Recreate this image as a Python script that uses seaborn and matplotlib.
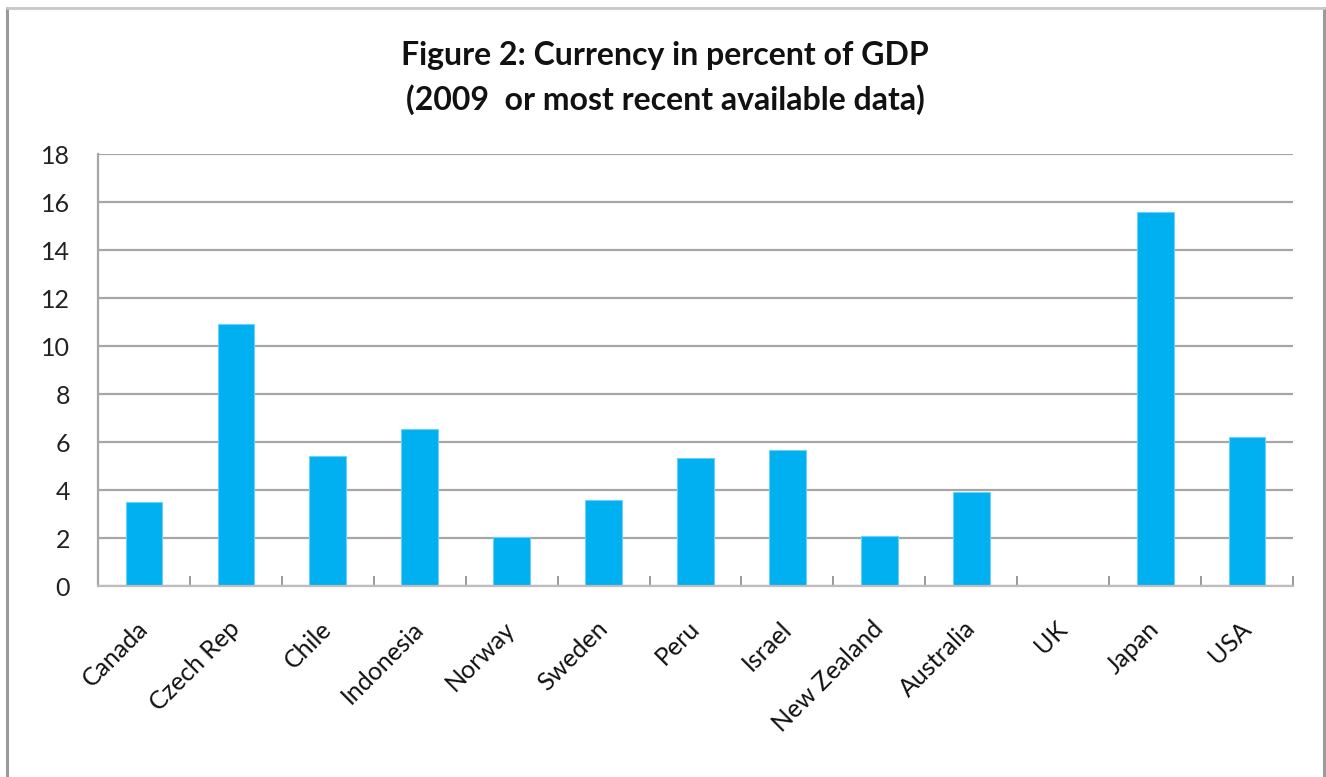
import numpy as np
import pandas as pd
import matplotlib
matplotlib.use("Agg")
import matplotlib.pyplot as plt
from matplotlib.lines import Line2D
from matplotlib.ticker import FixedLocator
import seaborn as sns

# Currency in circulation as a share of GDP
countries = ["Canada", "Czech Rep", "Chile", "Indonesia", "Norway", "Sweden",
             "Peru", "Israel", "New Zealand", "Australia", "UK", "Japan", "USA"]
currency_pct_gdp = [3.5, 10.9, 5.42, 6.53, 2.03, 3.58,
                    5.35, 5.68, 2.08, 3.92, 0.0, 15.6, 6.2]
y_ticks = [0, 2, 4, 6, 8, 10, 12, 14, 16, 18]

title_lines = ["Figure 2: Currency in percent of GDP",
               "(2009  or most recent available data)"]

sns.set_theme(style="white")
plt.rcParams["font.family"] = ["Lato", "DejaVu Sans"]

df = pd.DataFrame({"country": countries, "value": currency_pct_gdp})

fig = plt.figure(figsize=(13.26, 7.77), dpi=100)
ax = fig.add_axes([98 / 1326, 1 - 586 / 777, (1293 - 98) / 1326, (586 - 154) / 777])

sns.barplot(data=df, x="country", y="value", order=countries, color="#00B0F0",
            saturation=1, width=0.4, edgecolor="#6fd0f5", linewidth=0.8, ax=ax)

ax.set_xlim(-0.5, len(countries) - 0.5)
ax.set_ylim(0, 18)
ax.set_yticks(y_ticks)
ax.set_yticklabels([str(v) for v in y_ticks], fontsize=18, color="#222222")
ax.yaxis.grid(True, color="#a6a6a6", linewidth=1.6)
ax.set_axisbelow(True)
ax.set_xlabel("")
ax.set_ylabel("")

# Category labels, slanted
ax.set_xticks(range(len(countries)))
ax.set_xticklabels(countries, rotation=45, ha="right", va="center",
                   rotation_mode="anchor", fontsize=18, color="#111111")
ax.tick_params(axis="x", which="major", length=0, pad=28)
ax.tick_params(axis="y", which="major", length=0, pad=20)

# Inward tick marks at category boundaries
ax.xaxis.set_minor_locator(FixedLocator(np.arange(-0.5, len(countries), 1.0)))
ax.tick_params(axis="x", which="minor", direction="in", length=7.5,
               width=1.4, color="#9a9a9a", bottom=True)

for side in ["top", "right"]:
    ax.spines[side].set_visible(False)
ax.spines["left"].set_color("#a6a6a6")
ax.spines["left"].set_linewidth(1.6)
ax.spines["bottom"].set_color("#bdbdbd")
ax.spines["bottom"].set_linewidth(1.6)

# Chart titles
fig.text(665 / 1326, 1 - 56 / 777, title_lines[0], ha="center", va="center",
         fontsize=23, fontweight="bold", color="#111111")
fig.text(665 / 1326, 1 - 100 / 777, title_lines[1], ha="center", va="center",
         fontsize=23, fontweight="bold", color="#111111")

# Outer chart frame
frame_kw = dict(transform=fig.transFigure, color="#9a9a9a", linewidth=2.2)
fig.add_artist(Line2D([7 / 1326, 7 / 1326], [0, 1 - 8 / 777], **frame_kw))
fig.add_artist(Line2D([1324 / 1326, 1324 / 1326], [0, 1 - 8 / 777], **frame_kw))
fig.add_artist(Line2D([7 / 1326, 1324 / 1326], [1 - 8 / 777, 1 - 8 / 777],
                      transform=fig.transFigure, color="#c8c8c8", linewidth=2.0))

fig.savefig("out.png", dpi=100, facecolor="white")
